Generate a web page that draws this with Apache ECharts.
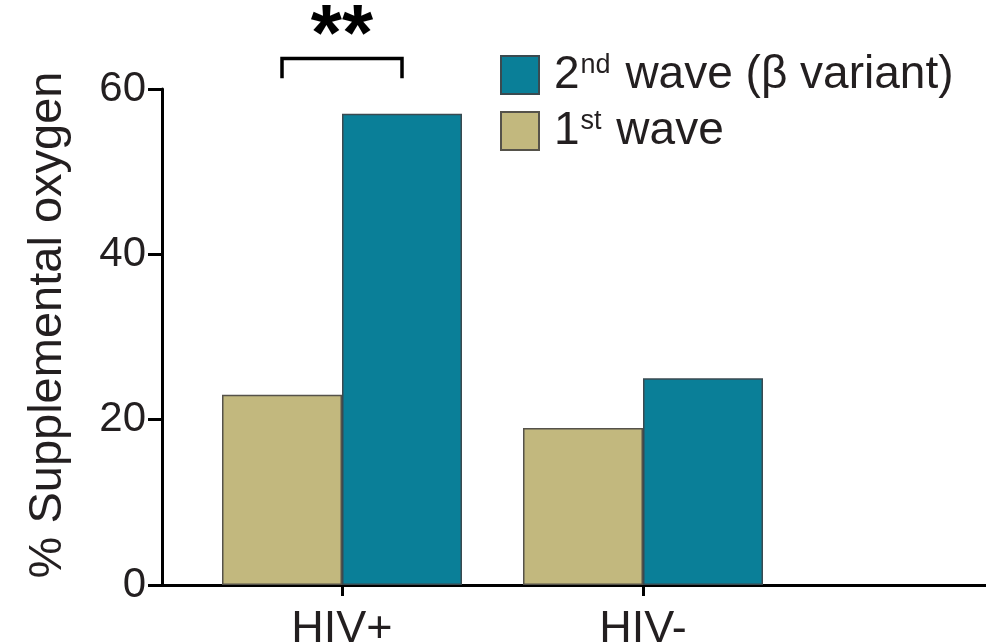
<!DOCTYPE html>
<html>
<head>
<meta charset="utf-8">
<script src="https://cdn.jsdelivr.net/npm/echarts@6/dist/echarts.min.js"></script>
<style>
  html, body { margin: 0; padding: 0; background: #fff; overflow: hidden; }
  #chart { width: 986px; height: 643px; }
</style>
</head>
<body>
<div id="chart"></div>
<script>
// Groups on the x axis
const categories = ['HIV+', 'HIV-'];
// % of patients needing supplemental oxygen
const firstWave = [23, 19];
const secondWave = [57, 25];
// Y axis ticks
const yTicks = [0, 20, 40, 60];
// Significance bracket: [category, bracket top, leg bottom, label]
const significance = [['HIV+', 63.7, 61.3, '**']];

const FONT = '"Liberation Sans", Arial, sans-serif';
const INK = '#231f20';
const TEAL = '#0a7f98';
const KHAKI = '#c2b87e';
const BAR_W = 120;

const chart = echarts.init(document.getElementById('chart'), null, { renderer: 'canvas', width: 986, height: 643 });

const option = {
  animation: false,
  backgroundColor: '#fff',
  textStyle: { fontFamily: FONT },
  grid: [
    { left: 162, width: 840, top: 89, height: 496, containLabel: false, outerBoundsMode: 'none' },
    { left: 191.5, width: 602, top: 89, height: 496, containLabel: false, outerBoundsMode: 'none' }
  ],
  legend: {
    orient: 'vertical',
    left: 495,
    top: 47,
    itemWidth: 38,
    itemHeight: 38,
    itemGap: 10,
    icon: 'rect',
    data: ['2nd wave (β variant)', '1st wave'],
    formatter: function (name) {
      if (name === '1st wave') return '{a|1}{s|st}{a| wave}';
      return '{a|2}{s|nd}{a| wave (β variant)}';
    },
    textStyle: {
      padding: [0, 0, 0, 10],
      rich: {
        a: { fontSize: 46, color: INK, fontFamily: FONT, lineHeight: 46 },
        s: { fontSize: 27, color: INK, fontFamily: FONT, verticalAlign: 'top', lineHeight: 46, padding: [0, 2, 12, 1] }
      }
    }
  },
  xAxis: [
    {
      type: 'value', gridIndex: 0, min: 0, max: 1,
      axisLine: { show: true, lineStyle: { color: '#000', width: 3 } },
      axisTick: { show: false }, axisLabel: { show: false }, splitLine: { show: false }
    },
    {
      type: 'category', gridIndex: 1, data: categories,
      axisLine: { show: false },
      axisTick: { show: true, alignWithLabel: true, length: 11, lineStyle: { color: '#000', width: 3 } },
      axisLabel: { fontSize: 45, color: INK, fontFamily: FONT, margin: 22 },
      splitLine: { show: false }
    }
  ],
  yAxis: [
    {
      type: 'value', gridIndex: 0, min: 0, max: 60, interval: 20,
      name: '% Supplemental oxygen', nameLocation: 'middle', nameGap: 90,
      nameTextStyle: { fontSize: 47, color: INK, fontFamily: FONT, padding: [0, 0, 0, 24] },
      axisLine: { show: true, lineStyle: { color: '#000', width: 3 } },
      axisTick: { show: true, length: 14, lineStyle: { color: '#000', width: 3 } },
      axisLabel: { fontSize: 42, color: INK, fontFamily: FONT, margin: 16,
        formatter: v => yTicks.includes(v) ? String(v) : '' },
      splitLine: { show: false }
    },
    {
      type: 'value', gridIndex: 1, min: 0, max: 60, interval: 20, show: false
    }
  ],
  series: [
    {
      name: '1st wave', type: 'bar', xAxisIndex: 1, yAxisIndex: 1,
      data: firstWave, barWidth: BAR_W, barGap: '0%',
      itemStyle: { color: KHAKI, borderColor: '#55524a', borderWidth: 1.5 }
    },
    {
      name: '2nd wave (β variant)', type: 'bar', xAxisIndex: 1, yAxisIndex: 1,
      data: secondWave, barWidth: BAR_W, barGap: '0%',
      itemStyle: { color: TEAL, borderColor: '#3a4a50', borderWidth: 1.5 }
    },
    {
      type: 'custom', xAxisIndex: 1, yAxisIndex: 1, clip: false, silent: true,
      data: significance,
      renderItem: function (params, api) {
        const top = api.coord([api.value(0), api.value(1)]);
        const foot = api.coord([api.value(0), api.value(2)]);
        const cx = top[0], half = BAR_W / 2;
        return {
          type: 'group',
          children: [
            {
              type: 'polyline',
              shape: { points: [[cx - half, foot[1]], [cx - half, top[1]], [cx + half, top[1]], [cx + half, foot[1]]] },
              style: { stroke: '#000', lineWidth: 3.5, fill: null }
            },
            {
              type: 'text',
              style: {
                text: significance[params.dataIndex][3],
                x: cx, y: top[1] - 20,
                align: 'center', verticalAlign: 'middle',
                font: 'bold 80px ' + FONT, fill: '#000'
              }
            }
          ]
        };
      }
    }
  ]
};

chart.setOption(option);
</script>
</body>
</html>
